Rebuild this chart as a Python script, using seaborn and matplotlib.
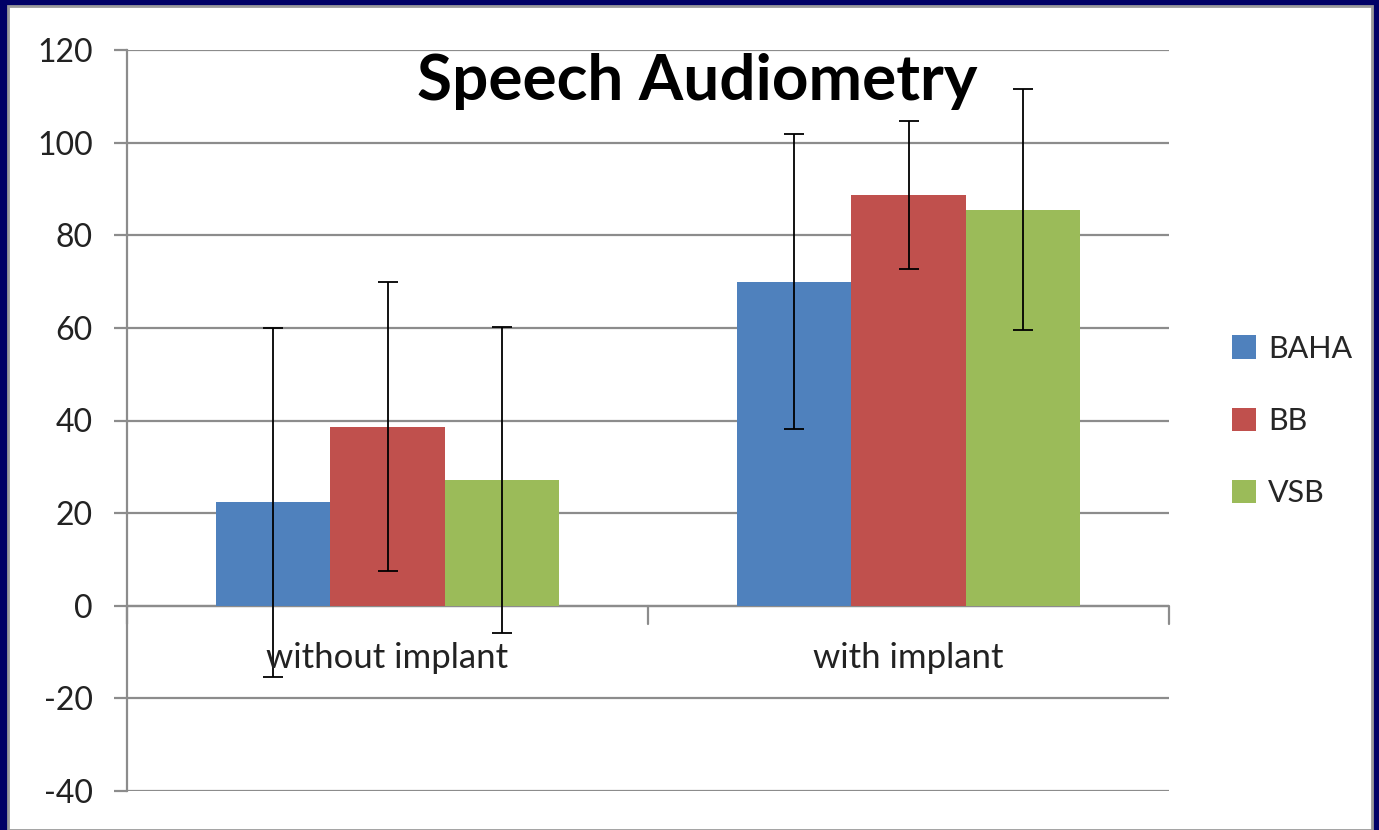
import numpy as np
import pandas as pd
import matplotlib
matplotlib.use("Agg")
import matplotlib.pyplot as plt
import seaborn as sns
from matplotlib.patches import Rectangle, Patch

# --- DATA ---
conditions = ["without implant", "with implant"]
devices = ["BAHA", "BB", "VSB"]
baha_mean = [22.3, 70.0]
bb_mean = [38.6, 88.7]
vsb_mean = [27.2, 85.5]
baha_err = [37.7, 31.8]
bb_err = [31.2, 16.0]
vsb_err = [33.0, 26.0]

colors = ["#4F81BD", "#C0504D", "#9BBB59"]

df = pd.DataFrame({
    "Condition": conditions * 3,
    "Device": [d for d in devices for _ in conditions],
    "Score": baha_mean + bb_mean + vsb_mean,
    "Err": baha_err + bb_err + vsb_err,
})

# --- STYLE ---
sns.set_style("white")
plt.rcParams["font.family"] = ["Lato", "DejaVu Sans"]
plt.rcParams["axes.unicode_minus"] = False

fig = plt.figure(figsize=(13.79, 8.30), dpi=100)
fig.patch.set_facecolor("#000066")
# white slide panel inside the navy frame
fig.patches.append(Rectangle((8 / 1379, 0), (1379 - 15) / 1379, (830 - 6) / 830,
                             transform=fig.transFigure, facecolor="white",
                             edgecolor="#9a9a9a", linewidth=2, zorder=-5))

ax = fig.add_axes([127 / 1379, 1 - 791 / 830, (1169 - 127) / 1379, (791 - 50) / 830])
ax.set_zorder(2)
ax.set_facecolor("none")

sns.barplot(data=df, x="Condition", y="Score", hue="Device", order=conditions,
            hue_order=devices, palette=colors, errorbar=None, width=0.66,
            saturation=1, linewidth=0, ax=ax, legend=False, zorder=3)

# error bars at the centre of each bar
for patch_group, dev in zip(ax.containers, devices):
    sub = df[df["Device"] == dev].set_index("Condition").loc[conditions]
    xs = [p.get_x() + p.get_width() / 2 for p in patch_group]
    ax.errorbar(xs, sub["Score"], yerr=sub["Err"], fmt="none", ecolor="black",
                elinewidth=1.3, capsize=7, capthick=1.3, zorder=5)

ax.set_ylim(-40, 120)
ax.set_xlim(-0.5, 1.5)
ax.set_yticks(np.arange(-40, 121, 20))
ax.yaxis.grid(True, color="#8c8c8c", linewidth=1.6, zorder=0)
ax.set_axisbelow(True)

for s in ["top", "right", "bottom"]:
    ax.spines[s].set_visible(False)
ax.spines["left"].set_color("#8c8c8c")
ax.spines["left"].set_linewidth(1.6)

ax.tick_params(axis="y", length=9.5, width=1.6, color="#8c8c8c", labelsize=23,
               labelcolor="#222222", pad=15, left=True)
ax.tick_params(axis="x", bottom=False, labelbottom=False)
ax.set_xlabel("")
ax.set_ylabel("")

# category axis drawn at y = 0 with ticks between categories
ax.axhline(0, color="#8c8c8c", linewidth=1.6, zorder=2)
for xt in [-0.5, 0.5, 1.5]:
    ax.plot([xt, xt], [0, -3.9], color="#8c8c8c", linewidth=1.6, clip_on=False, zorder=2)
for i, c in enumerate(conditions):
    ax.text(i, -11.3, c, ha="center", va="center", fontsize=25, color="#222222", zorder=6)

fig.text(697 / 1379, 1 - 82 / 830, "Speech Audiometry", ha="center", va="center",
         fontsize=46, fontweight="bold", color="black")

handles = [Patch(facecolor=c, edgecolor="none") for c in colors]
fig.legend(handles, devices, loc="center left", bbox_to_anchor=(1204 / 1379, 1 - 421 / 830),
           frameon=False, fontsize=22, handlelength=0.8, handleheight=0.8,
           handletextpad=0.4, labelspacing=1.45)

fig.savefig("out.png", dpi=100, facecolor=fig.get_facecolor())
